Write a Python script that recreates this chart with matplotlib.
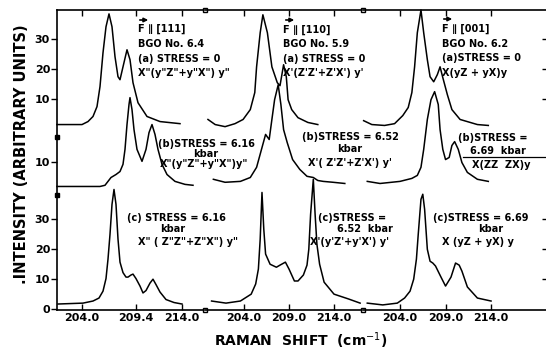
import matplotlib
matplotlib.use('Agg')
import numpy as np
import matplotlib.pyplot as plt
from matplotlib.lines import Line2D

# Raman shift (cm-1) and intensity (arb. units)
# column F || [111]
f111_a_shift = [201.5, 204.0, 204.6, 205.1, 205.5, 205.8, 206.1, 206.4, 206.7, 207.0, 207.3,
                207.6, 207.8, 208.1, 208.5, 208.8, 209.1, 209.6, 210.5, 211.8, 213.8]
f111_a_int = [1.5, 1.5, 2.5, 4.2, 7.5, 14.2, 25.5, 34.2, 38.5, 34.2, 24.2,
              17.5, 16.5, 20.8, 26.5, 23.2, 15.5, 8.8, 4.2, 2.5, 1.8]
f111_b_shift = [201.5, 205.8, 206.3, 206.6, 206.9, 207.4, 207.8, 208.1, 208.3, 208.5, 208.7, 208.8,
                209.0, 209.2, 209.5, 210.0, 210.4, 210.7, 211.0, 211.3, 211.6, 212.0, 212.5,
                213.3, 214.3, 215.1]
f111_b_int = [1.8, 1.8, 2.2, 3.5, 4.8, 5.8, 6.8, 9.2, 14.2, 22.5, 29.2, 31.5,
              27.5, 20.8, 14.2, 10.2, 14.2, 19.8, 22.5, 19.2, 14.2, 9.2, 5.8,
              3.5, 2.5, 2.2]
f111_c_shift = [201.6, 204.1, 205.1, 205.7, 206.1, 206.4, 206.6, 206.8, 207.0, 207.2, 207.4,
                207.6, 207.8, 208.1, 208.4, 208.6, 208.9, 209.1, 209.4, 209.8, 210.1,
                210.4, 210.8, 211.1, 211.4, 211.8, 212.4, 213.2, 214.0]
f111_c_int = [1.5, 1.8, 2.5, 3.5, 5.8, 10.0, 16.5, 24.8, 34.8, 39.8, 34.8,
              23.2, 15.5, 12.0, 10.5, 10.5, 11.2, 11.5, 10.0, 7.5, 5.2,
              6.0, 8.5, 9.8, 8.0, 5.5, 3.0, 2.0, 1.5]

# column F || [110]
f110_a_shift = [200.0, 200.8, 201.9, 203.0, 203.9, 204.7, 205.2, 205.4, 205.8, 206.1, 206.6,
                207.1, 207.7, 208.0, 208.4, 208.7, 208.9, 209.3, 210.0, 211.1, 212.2]
f110_a_int = [3.2, 1.5, 0.8, 1.8, 3.2, 6.5, 12.2, 20.8, 32.2, 38.2, 32.2,
              20.8, 15.5, 14.5, 21.5, 17.5, 9.8, 6.5, 3.8, 2.2, 1.5]
f110_b_shift = [200.6, 201.9, 203.6, 204.7, 205.4, 206.0, 206.4, 206.8, 207.1, 207.4, 207.8,
                208.1, 208.4, 208.8, 209.4, 210.2, 211.0, 211.7, 212.2, 212.8, 213.9, 215.2]
f110_b_int = [4.2, 3.2, 3.5, 4.8, 8.2, 14.8, 19.2, 17.5, 24.2, 30.8, 35.8,
              29.2, 20.8, 16.5, 10.8, 7.5, 5.2, 4.8, 3.8, 3.5, 3.2, 2.8]
f110_c_shift = [200.4, 202.0, 203.6, 204.8, 205.3, 205.6, 205.8, 206.0, 206.2, 206.4, 206.9,
                207.6, 208.0, 208.6, 209.0, 209.6, 210.0, 210.6, 211.0, 211.2, 211.4,
                211.7, 211.9, 212.1, 212.4, 212.9, 214.0, 215.6, 216.9]
f110_c_int = [2.5, 1.8, 2.5, 4.8, 8.2, 13.2, 23.2, 38.8, 26.5, 18.2, 14.8,
              13.8, 14.5, 15.5, 13.2, 9.2, 9.2, 11.2, 14.5, 19.8, 31.5,
              43.2, 31.5, 21.5, 14.8, 8.8, 4.8, 3.2, 1.8]

# column F || [001]
f001_a_shift = [200.0, 200.9, 202.3, 203.4, 204.3, 204.9, 205.3, 205.6, 205.9, 206.3, 206.6,
                207.0, 207.3, 207.7, 208.1, 208.4, 208.7, 209.2, 209.7, 210.6, 212.5, 213.7]
f001_a_int = [2.8, 1.5, 1.2, 1.8, 4.5, 7.2, 12.2, 20.8, 32.2, 39.8, 32.2,
              23.2, 17.5, 15.8, 18.2, 20.8, 17.2, 11.5, 6.5, 3.2, 1.5, 1.2]
f001_b_shift = [200.4, 201.8, 204.0, 205.3, 205.9, 206.3, 206.6, 207.0, 207.4, 207.8, 208.2,
                208.4, 208.7, 209.0, 209.4, 209.7, 210.0, 210.4, 210.8, 211.4, 212.5, 213.7]
f001_b_int = [3.5, 2.8, 3.5, 4.5, 5.5, 8.2, 14.2, 24.2, 30.8, 33.5, 29.2,
              20.8, 14.2, 10.8, 11.5, 15.5, 16.8, 14.2, 9.8, 6.5, 4.2, 3.5]
f001_c_shift = [200.4, 202.1, 203.7, 204.5, 205.1, 205.5, 205.8, 206.0, 206.3, 206.5, 206.7,
                207.0, 207.3, 207.6, 207.9, 208.5, 209.0, 209.6, 210.1, 210.5, 210.8,
                211.4, 212.5, 214.0]
f001_c_int = [1.8, 1.2, 1.8, 3.5, 5.8, 9.8, 16.5, 24.8, 36.5, 38.2, 33.2,
              19.8, 15.8, 15.2, 14.2, 10.5, 7.5, 10.5, 15.2, 14.5, 12.5,
              7.2, 3.5, 2.5]

tick_pos = [[204.0, 209.4, 214.0], [204.0, 209.0, 214.0], [204.0, 209.0, 214.0]]
tick_lab = [['204.0', '209.4', '214.0'], ['204.0', '209.0', '214.0'], ['204.0', '209.0', '214.0']]
y_labels = ['30', '20', '10', '10', '30', '20', '10', '0']

W, H = 546, 351


def fx(px):
    return px / W


def fy(py):
    return 1 - py / H


plt.rcParams['font.family'] = ['DejaVu Sans']
fig = plt.figure(figsize=(W / 100, H / 100), dpi=100)

# three columns share one vertical scale, rows are stacked with offsets
row_off = [60, 39, 0]
ylim = (-0.5, 99.8)
col_px = [(57, 205), (205, 363), (363, 546)]
col_xlim = [(201.5, 216.3), (199.67, 217.22), (199.93, 220.04)]
data = [[(f111_a_shift, f111_a_int), (f111_b_shift, f111_b_int), (f111_c_shift, f111_c_int)],
        [(f110_a_shift, f110_a_int), (f110_b_shift, f110_b_int), (f110_c_shift, f110_c_int)],
        [(f001_a_shift, f001_a_int), (f001_b_shift, f001_b_int), (f001_c_shift, f001_c_int)]]

axes = []
for i in range(3):
    x0, x1 = col_px[i]
    ax = fig.add_axes([fx(x0), fy(310), (x1 - x0) / W, (310 - 10) / H])
    ax.set_xlim(col_xlim[i])
    ax.set_ylim(ylim)
    ax.patch.set_alpha(0)
    for r in range(3):
        xs, ys = data[i][r]
        ax.plot(xs, np.array(ys) + row_off[r], color='black', lw=1.1, clip_on=False)
    for s in ['top', 'bottom', 'left', 'right']:
        ax.spines[s].set_linewidth(1.2)
    ax.spines['right'].set_visible(False)
    if i > 0:
        ax.spines['left'].set_visible(False)
    ax.set_xticks(tick_pos[i])
    ax.set_xticklabels(tick_lab[i], fontweight='bold')
    ax.tick_params(axis='x', direction='in', top=True, length=4, width=1,
                   labelsize=8, pad=2)
    axes.append(ax)

# y ticks: labels on the left, bare ticks on the right edge
axes[0].set_yticks([90, 80, 70, 49, 30, 20, 10, 0])
axes[0].set_yticklabels(y_labels, fontweight='bold')
axes[0].tick_params(axis='y', direction='out', length=4, width=1, labelsize=8, pad=1)
axes[1].set_yticks([])
axes[2].set_yticks([90, 80, 70, 30, 20, 10])
axes[2].yaxis.set_ticks_position('right')
axes[2].tick_params(axis='y', direction='in', length=3, width=1, labelright=False)

# small squares where columns meet, dots on left spine between rows
for ax in axes[:2]:
    ax.plot([ax.get_xlim()[1]] * 2, list(ylim), 's', mfc='white', mec='black',
            ms=3.5, mew=1, clip_on=False, zorder=5)
axes[0].plot([axes[0].get_xlim()[0]] * 2, [57.5, 37.8], 's', color='black', ms=3,
             clip_on=False, zorder=5)

fs = 7
texts = [
    (138, 29, 'F \u2225 [111]'), (138, 44, 'BGO No. 6.4'), (138, 59, '(a) STRESS = 0'),
    (138, 73, 'X"(y"Z"+y"X") y"'),
    (283, 30, 'F \u2225 [110]'), (283, 44, 'BGO No. 5.9'), (283, 59, '(a) STRESS = 0'),
    (283, 73, "X'(Z'Z'+Z'X') y'"),
    (442, 29, 'F \u2225 [001]'), (442, 44, 'BGO No. 6.2'), (442, 58, '(a)STRESS = 0'),
    (442, 73, 'X(yZ + yX)y'),
    (158, 144, '(b)STRESS = 6.16'), (193, 154, 'kbar'), (160, 164, 'X"(y"Z"+y"X")y"'),
    (302, 137, '(b)STRESS = 6.52'), (337, 149, 'kbar'), (308, 163, "X'( Z'Z'+Z'X') y'"),
    (458, 138, '(b)STRESS ='), (470, 151, '6.69  kbar'), (472, 165, 'X(ZZ  ZX)y'),
    (127, 218, '(c) STRESS = 6.16'), (160, 229, 'kbar'), (138, 242, 'X" ( Z"Z"+Z"X") y"'),
    (318, 218, '(c)STRESS ='), (337, 229, '6.52  kbar'), (310, 242, "X'(y'Z'+y'X') y'"),
    (433, 218, '(c)STRESS = 6.69'), (478, 229, 'kbar'), (442, 242, 'X (yZ + yX) y'),
]
for x, y, s in texts:
    fig.text(fx(x), fy(y), s, fontsize=fs, fontweight='bold', ha='left', va='center')

# vector arrows over F
for x0, y0 in [(137, 20), (283, 20), (441, 19)]:
    axes[0].annotate('', xy=(fx(x0 + 14), fy(y0)), xytext=(fx(x0), fy(y0)),
                     xycoords='figure fraction', textcoords='figure fraction',
                     arrowprops=dict(arrowstyle='-|>', lw=1.2, color='black', mutation_scale=6))

fig.add_artist(Line2D([fx(463), fx(545)], [fy(157), fy(157)], color='black', lw=0.9,
                      transform=fig.transFigure))

fig.text(fx(22), fy(154), '.INTENSITY (ARBITRARY UNITS)', rotation=90, fontsize=10.5,
         fontweight='bold', ha='center', va='center')
fig.text(fx(301), fy(341), 'RAMAN  SHIFT  (cm$^{-1}$)', fontsize=10, fontweight='bold',
         ha='center', va='center')

fig.savefig('out.png', dpi=100)
